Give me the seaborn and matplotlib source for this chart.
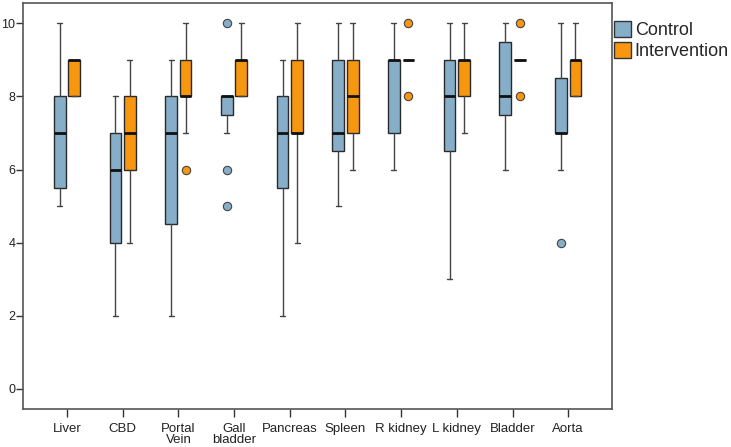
import matplotlib
matplotlib.use("Agg")
import matplotlib.pyplot as plt
import seaborn as sns
from matplotlib.patches import Patch

sns.set_style("white")
plt.rcParams['font.family'] = ['Liberation Sans', 'DejaVu Sans']

categories = ["Liver", "CBD", "Portal\nVein", "Gall\nbladder", "Pancreas",
              "Spleen", "R kidney", "L kidney", "Bladder", "Aorta"]
groups = ["Control", "Intervention"]
colors = ["#86aec8", "#f7960f"]

# (whislo, q1, median, q3, whishi)
control_stats = [
    (5, 5.5, 7, 8, 10),
    (2, 4, 6, 7, 8),
    (2, 4.5, 7, 8, 9),
    (7, 7.5, 8, 8, 8),
    (2, 5.5, 7, 8, 9),
    (5, 6.5, 7, 9, 10),
    (6, 7, 9, 9, 10),
    (3, 6.5, 8, 9, 10),
    (6, 7.5, 8, 9.5, 10),
    (6, 7, 7, 8.5, 10),
]
control_fliers = [[], [], [], [10, 6, 5], [], [], [], [], [], [4]]

intervention_stats = [
    (8, 8, 9, 9, 9),
    (4, 6, 7, 8, 9),
    (7, 8, 8, 9, 10),
    (8, 8, 9, 9, 10),
    (4, 7, 7, 9, 10),
    (6, 7, 8, 9, 10),
    (9, 9, 9, 9, 9),
    (7, 8, 9, 9, 10),
    (9, 9, 9, 9, 9),
    (8, 8, 9, 9, 10),
]
intervention_fliers = [[], [], [6], [], [], [], [10, 8], [], [10, 8], []]

fig = plt.figure(figsize=(7.31, 4.47), dpi=100)
ax = fig.add_axes([0.0315, 0.085, 0.806, 0.908])

offsets = [-0.13, 0.13]
for g, (stats_list, fliers_list) in enumerate([(control_stats, control_fliers),
                                               (intervention_stats, intervention_fliers)]):
    bstats = []
    for s, f in zip(stats_list, fliers_list):
        bstats.append(dict(whislo=s[0], q1=s[1], med=s[2], q3=s[3], whishi=s[4], fliers=f))
    pos = [i + offsets[g] for i in range(len(categories))]
    ax.bxp(bstats, positions=pos, widths=0.21, capwidths=0.09, patch_artist=True,
           showfliers=True,
           boxprops=dict(facecolor=colors[g], edgecolor="#2a2a2a", linewidth=1.0),
           medianprops=dict(color="#111111", linewidth=2.0),
           whiskerprops=dict(color="#444444", linewidth=1.0),
           capprops=dict(color="#444444", linewidth=1.0),
           flierprops=dict(marker="o", markerfacecolor=colors[g], markeredgecolor="#444444",
                           markersize=6, markeredgewidth=0.8))

ax.set_xlim(-0.79, 9.79)
ax.set_ylim(-0.55, 10.55)
ax.set_xticks(range(len(categories)))
ax.set_xticklabels(categories, fontsize=9.5, color="#222222", linespacing=0.95)
ax.set_yticks([0, 2, 4, 6, 8, 10])
ax.set_yticklabels(["0", "2", "4", "6", "8", "10"], fontsize=9, color="#222222")
ax.tick_params(axis="x", length=6, width=1, color="#333333", direction="out",
               bottom=True, pad=4)
ax.tick_params(axis="y", length=5, width=1, color="#333333", direction="out",
               left=True, pad=0.5)
for sp in ax.spines.values():
    sp.set_color("#555555")
    sp.set_linewidth(1.2)

handles = [Patch(facecolor=colors[i], edgecolor="#333333", label=groups[i]) for i in range(2)]
fig.legend(handles=handles, loc="upper left", bbox_to_anchor=(0.840, 0.953),
           frameon=False, fontsize=13, handlelength=0.95, handleheight=1.0,
           handletextpad=0.2, borderaxespad=0, labelspacing=0.15, borderpad=0)

fig.savefig("out.png", dpi=100)
